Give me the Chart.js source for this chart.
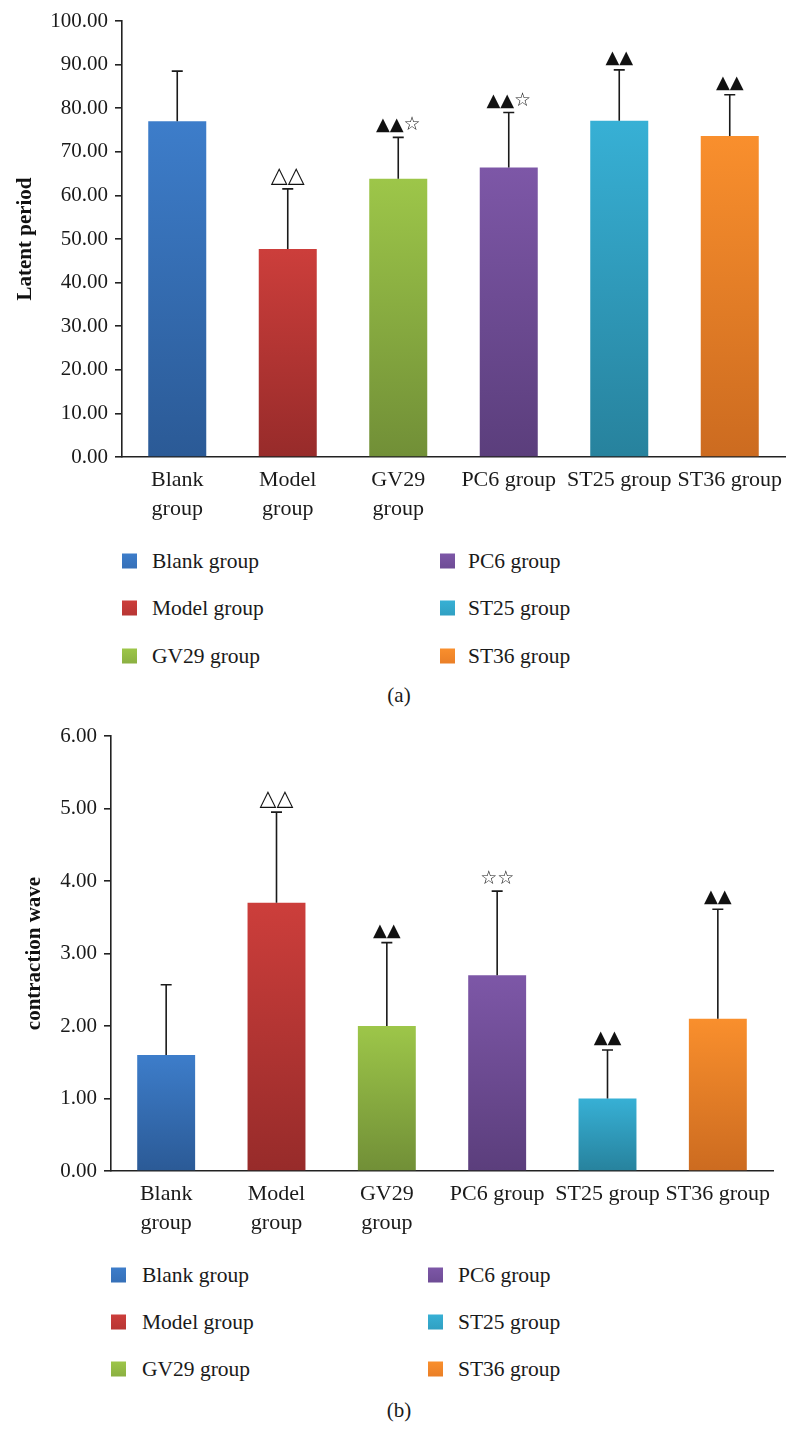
<!DOCTYPE html>
<html><head><meta charset="utf-8">
<script src="https://cdn.jsdelivr.net/npm/chart.js@4.4.1/dist/chart.umd.min.js"></script>
<style>
html,body{margin:0;padding:0;background:#fff;}
body{width:798px;height:1455px;position:relative;overflow:hidden;font-family:'Liberation Serif',serif;color:#1a1a1a;}
canvas{position:absolute;left:0;}
.lt{position:absolute;font-size:21.5px;line-height:24px;transform:translateY(-50%);white-space:nowrap;}
.sw{position:absolute;width:15px;height:15px;transform:translateY(-50%);}
.cap{position:absolute;font-size:21px;transform:translate(-50%,-50%);}
</style></head><body>
<canvas id="c1" style="top:0px;width:798px;height:540px" width="798" height="540"></canvas>
<div id="leg1"></div>
<div class="cap" style="left:399px;top:695px">(a)</div>
<canvas id="c2" style="top:715px;width:798px;height:540px" width="798" height="540"></canvas>
<div id="leg2"></div>
<div class="cap" style="left:399px;top:1410px">(b)</div>
<script>
// ---- data ----
const categories = ['Blank group','Model group','GV29 group','PC6 group','ST25 group','ST36 group'];
const tickLabels = [['Blank','group'],['Model','group'],['GV29','group'],'PC6 group','ST25 group','ST36 group'];
const latentMeans = [77.0, 47.7, 63.8, 66.4, 77.1, 73.6];
const latentSD    = [11.5, 13.8, 9.5, 12.6, 11.7, 9.5];
const latentMarks = ['', '△△', '▲▲☆', '▲▲☆', '▲▲', '▲▲'];
const waveMeans = [1.60, 3.70, 2.00, 2.70, 1.00, 2.10];
const waveSD    = [0.97, 1.25, 1.15, 1.16, 0.67, 1.51];
const waveMarks = ['', '△△', '▲▲', '☆☆', '▲▲', '▲▲'];
const latentTicks = [0,10,20,30,40,50,60,70,80,90,100];
const waveTicks = [0,1,2,3,4,5,6];

// ---- styles ----
const topColors = ['#3d7dca','#cc3e3b','#9dc649','#7d57a7','#37b0d5','#f98f2d'];
const botColors = ['#2b5a96','#972b2a','#718f37','#5b3e7c','#27829d','#cc6b20'];
const legColors = ['#3670b8','#b83634','#8bb042','#6e4c95','#30a0c2','#ea7f27'];
const serif = "'Liberation Serif', 'Times New Roman', serif";
const markFont = { '▲': "18px 'DejaVu Sans'", '△': "22px 'DejaVu Sans'", '☆': "19px 'DejaVu Sans'" };

const errPlugin = {
  id: 'errbars',
  afterDatasetsDraw(chart, args, opts) {
    const ctx = chart.ctx;
    const meta = chart.getDatasetMeta(0);
    const ys = chart.scales.y;
    const vals = chart.data.datasets[0].data;
    ctx.save();
    meta.data.forEach((bar, i) => {
      const x = bar.x;
      const yb = ys.getPixelForValue(vals[i]);
      const yt = ys.getPixelForValue(vals[i] + opts.sd[i]);
      ctx.strokeStyle = '#1a1a1a';
      ctx.lineWidth = 1.6;
      ctx.beginPath();
      ctx.moveTo(x, yb); ctx.lineTo(x, yt);
      ctx.moveTo(x - 5.5, yt); ctx.lineTo(x + 5.5, yt);
      ctx.stroke();
      const m = opts.marks[i];
      if (m) {
        const chars = Array.from(m);
        const widths = chars.map(ch => { ctx.font = markFont[ch]; return ctx.measureText(ch).width; });
        const total = widths.reduce((a, b) => a + b, 0);
        let cx = x - total / 2;
        ctx.fillStyle = '#111';
        ctx.textAlign = 'left';
        ctx.textBaseline = 'alphabetic';
        chars.forEach((ch, k) => {
          ctx.font = markFont[ch];
          ctx.fillText(ch, cx, yt - 7);
          cx += widths[k];
        });
      }
    });
    ctx.restore();
  }
};

function makeChart(id, means, sd, marks, ticks, yTitle, yWidth, xHeight, padRight, titlePad) {
  const yMax = ticks[ticks.length - 1];
  return new Chart(document.getElementById(id), {
    type: 'bar',
    data: {
      labels: tickLabels,
      datasets: [{
        label: yTitle,
        data: means,
        categoryPercentage: 1.0,
        barPercentage: 0.525,
        borderWidth: 0,
        backgroundColor: (c) => {
          const chart = c.chart;
          const area = chart.chartArea;
          const i = c.dataIndex;
          if (!area || c.raw === undefined) return topColors[i];
          const y0 = chart.scales.y.getPixelForValue(c.raw);
          const y1 = chart.scales.y.getPixelForValue(0);
          const g = chart.ctx.createLinearGradient(0, y0, 0, y1);
          g.addColorStop(0, topColors[i]);
          g.addColorStop(1, botColors[i]);
          return g;
        }
      }]
    },
    options: {
      responsive: false,
      animation: false,
      devicePixelRatio: 1,
      layout: { padding: { top: 21, right: padRight, bottom: 0, left: 0 } },
      plugins: {
        legend: { display: false },
        tooltip: { enabled: false },
        errbars: { sd: sd, marks: marks }
      },
      scales: {
        x: {
          grid: { display: false, drawTicks: false },
          border: { display: true, color: '#222', width: 1.6 },
          ticks: { color: '#1a1a1a', font: { family: serif, size: 22, lineHeight: 1.3 }, padding: 9, maxRotation: 0, autoSkip: false },
          afterFit: (s) => { s.height = xHeight; }
        },
        y: {
          min: 0, max: yMax,
          afterBuildTicks: (s) => { s.ticks = ticks.map(v => ({ value: v })); },
          grid: { drawOnChartArea: false, drawTicks: true, tickLength: 7, color: '#222', lineWidth: 1.6 },
          border: { display: true, color: '#222', width: 1.6 },
          ticks: { color: '#1a1a1a', font: { family: serif, size: 21 }, padding: 7,
                   callback: (v) => Number(v).toFixed(2) },
          title: { display: true, text: yTitle, color: '#111',
                   font: { family: serif, size: 21, weight: 'bold' }, padding: { top: titlePad, bottom: 0 } },
          afterFit: (s) => { s.width = yWidth; }
        }
      }
    },
    plugins: [errPlugin]
  });
}

makeChart('c1', latentMeans, latentSD, latentMarks, latentTicks, 'Latent period', 122, 83, 13, 13);
makeChart('c2', waveMeans, waveSD, waveMarks, waveTicks, 'contraction wave', 111, 84, 25, 22);

function buildLegend(id, rows, cols) {
  const el = document.getElementById(id);
  categories.forEach((name, i) => {
    const col = Math.floor(i / 3), row = i % 3;
    const sw = document.createElement('div');
    sw.className = 'sw';
    sw.style.left = cols[col][0] + 'px';
    sw.style.top = rows[row] + 'px';
    sw.style.background = 'linear-gradient(' + topColors[i] + ',' + legColors[i] + ')';
    el.appendChild(sw);
    const t = document.createElement('div');
    t.className = 'lt';
    t.style.left = cols[col][1] + 'px';
    t.style.top = rows[row] + 'px';
    t.textContent = name;
    el.appendChild(t);
  });
}
buildLegend('leg1', [561, 608, 656], [[122, 152], [440, 468]]);
buildLegend('leg2', [1275, 1322, 1369], [[111, 142], [428, 458]]);
</script>
</body></html>
